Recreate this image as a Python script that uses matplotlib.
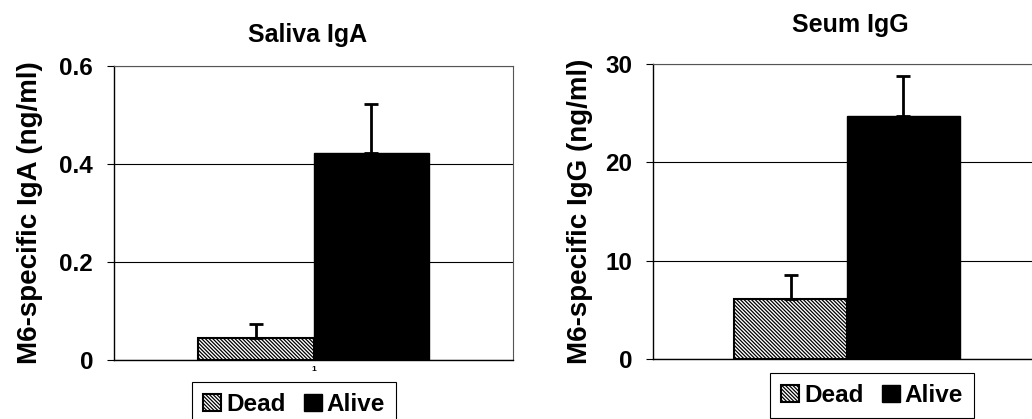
import matplotlib
matplotlib.use("Agg")
import matplotlib.pyplot as plt

plt.rcParams['font.family'] = ['Liberation Sans', 'DejaVu Sans']
plt.rcParams['font.weight'] = 'bold'
plt.rcParams['hatch.linewidth'] = 0.9

groups = ["Dead", "Alive"]
categories = ["1"]

saliva_iga = [0.045, 0.422]
saliva_iga_err = [0.028, 0.100]
serum_igg = [6.1, 24.7]
serum_igg_err = [2.4, 4.1]

titles = ["Saliva IgA", "Seum IgG"]
ylabels = ["M6-specific IgA (ng/ml)", "M6-specific IgG (ng/ml)"]
yticks_a = [0, 0.2, 0.4, 0.6]
yticklabels_a = ["0", "0.2", "0.4", "0.6"]
yticks_g = [0, 10, 20, 30]
yticklabels_g = ["0", "10", "20", "30"]

W, H = 1032, 419
fig = plt.figure(figsize=(W / 100, H / 100), dpi=100)

def px_axes(x0, y0, x1, y1):
    return fig.add_axes([x0 / W, 1 - y1 / H, (x1 - x0) / W, (y1 - y0) / H])

specs = [
    dict(rect=(114, 66, 513, 360), vals=saliva_iga, errs=saliva_iga_err,
         ticks=yticks_a, tlabels=yticklabels_a, ylim=(0, 0.6), show_x=True,
         title_xy=(308, 42), ylabel_x=30, leg=(192, 382, 394)),
    dict(rect=(653, 64, 1041, 359), vals=serum_igg, errs=serum_igg_err,
         ticks=yticks_g, tlabels=yticklabels_g, ylim=(0, 30), show_x=False,
         title_xy=(850, 32), ylabel_x=580, leg=(770, 373, 976)),
]

bw = 0.29
for i, s in enumerate(specs):
    ax = px_axes(*s['rect'])
    ax.set_xlim(0.5, 1.5)
    ax.set_ylim(*s['ylim'])
    ax.set_axisbelow(True)
    ax.yaxis.grid(True, color='black', linewidth=0.8)
    b1 = ax.bar([1 - bw / 2], [s['vals'][0]], width=bw, facecolor='white',
                edgecolor='black', hatch='\\' * 9, linewidth=1.5, label=groups[0])
    b2 = ax.bar([1 + bw / 2], [s['vals'][1]], width=bw, facecolor='black',
                edgecolor='black', linewidth=1.0, label=groups[1])
    ax.errorbar([1 - bw / 2, 1 + bw / 2], s['vals'],
                yerr=[[0, 0], s['errs']], fmt='none', ecolor='black',
                elinewidth=2.0, capsize=5, capthick=2.0)
    ax.set_yticks(s['ticks'])
    ax.set_yticklabels(s['tlabels'], fontsize=17.5, fontweight='bold')
    ax.tick_params(axis='y', length=5, width=0.8, pad=10, direction='out')
    if s['show_x']:
        ax.set_xticks([1])
        ax.set_xticklabels(categories, fontsize=6)
        ax.tick_params(axis='x', length=0, pad=4)
    else:
        ax.set_xticks([])
    for sp in ['top', 'right']:
        ax.spines[sp].set_color('#555555')
        ax.spines[sp].set_linewidth(0.8)
    ax.spines['left'].set_color('black')
    ax.spines['left'].set_linewidth(1.0)
    ax.spines['bottom'].set_color('black')
    ax.spines['bottom'].set_linewidth(1.0)
    fig.text(s['title_xy'][0] / W, 1 - s['title_xy'][1] / H, titles[i],
             ha='center', va='baseline', fontsize=18, fontweight='bold')
    fig.text(s['ylabel_x'] / W, 1 - (s['rect'][1] + s['rect'][3]) / 2 / H,
             ylabels[i], ha='center', va='center', rotation=90,
             fontsize=20, fontweight='bold')
    lx0, ly0, lx1 = s['leg']
    leg = fig.legend(handles=[b1, b2], labels=groups, loc='upper left',
                     bbox_to_anchor=(lx0 / W, 1 - ly0 / H), ncol=2,
                     frameon=True, fancybox=False, framealpha=1,
                     edgecolor='black', handlelength=0.75, handleheight=0.75,
                     handletextpad=0.2, columnspacing=0.75, borderpad=0.45,
                     borderaxespad=0, prop={'size': 17.5, 'weight': 'bold'})
    leg.get_frame().set_linewidth(0.8)

fig.savefig("out.png", dpi=100)
